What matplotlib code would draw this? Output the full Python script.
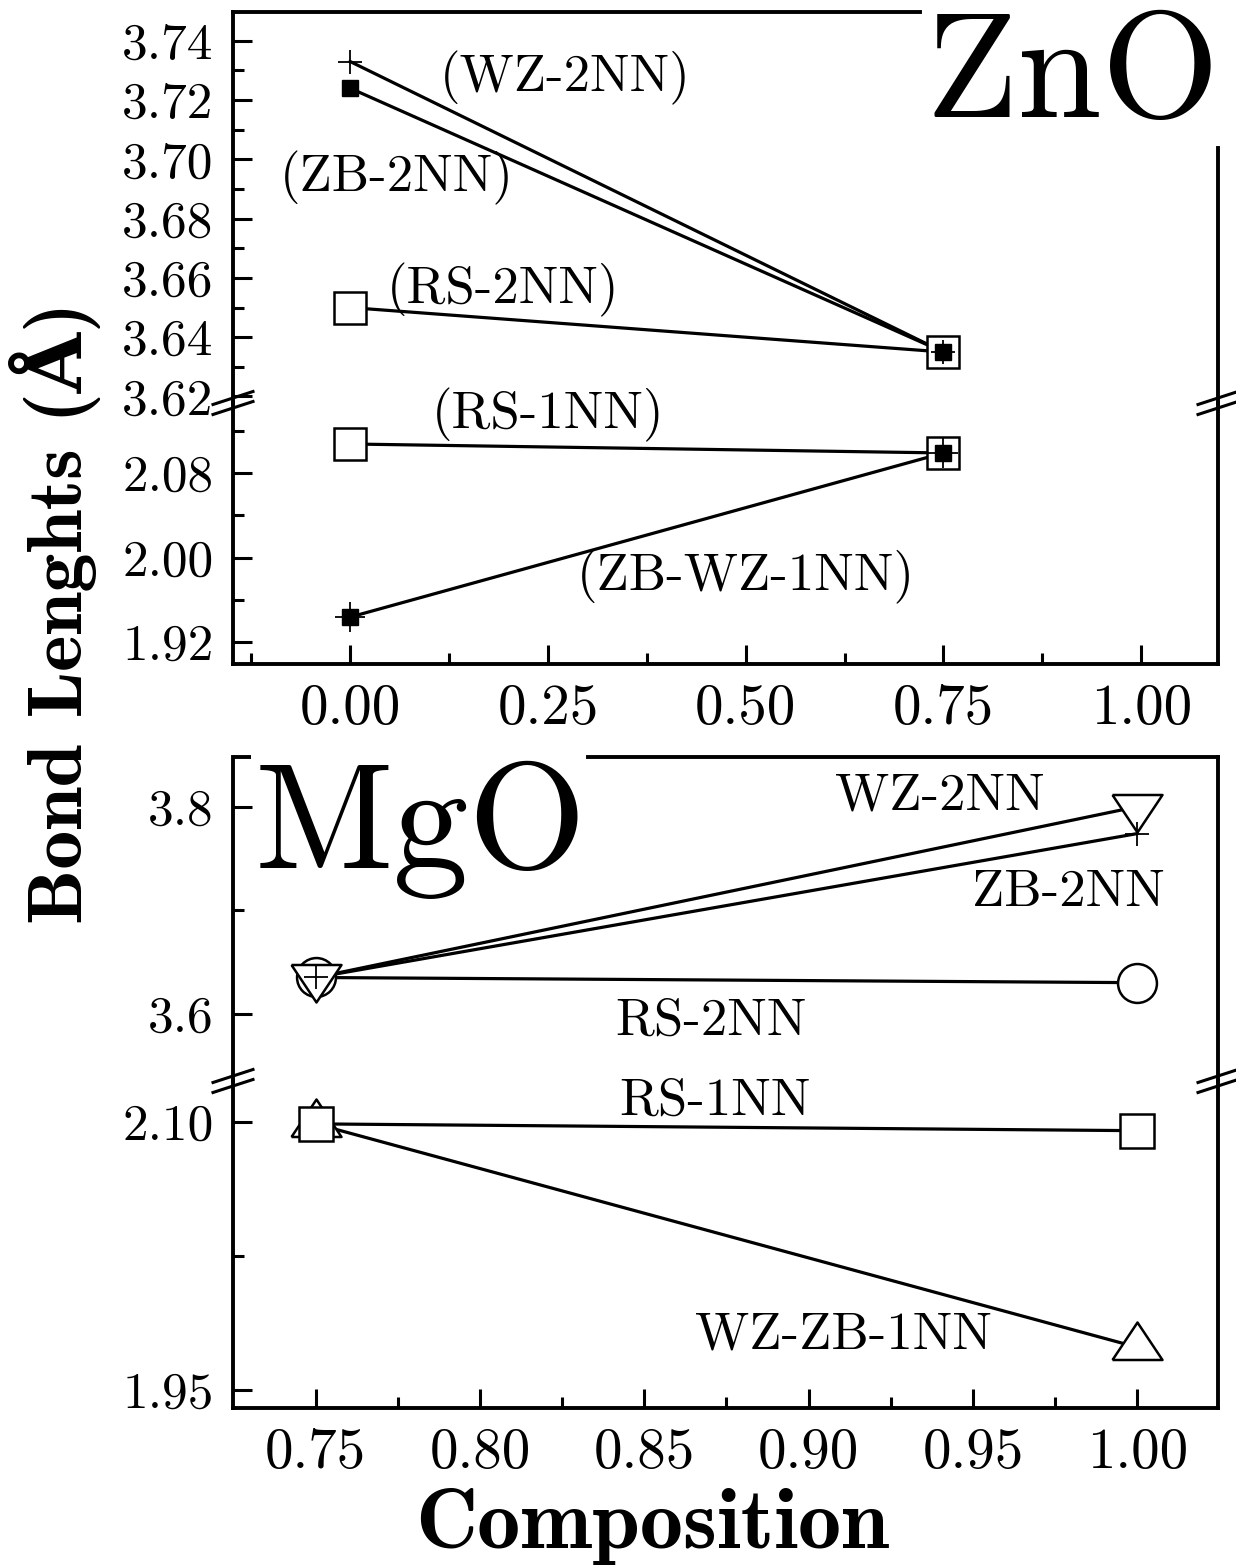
import matplotlib
matplotlib.use("Agg")
import matplotlib.pyplot as plt
from matplotlib.lines import Line2D
from matplotlib.ticker import FixedLocator, FormatStrFormatter

plt.rcParams['font.family'] = ['cmr10', 'DejaVu Serif']
plt.rcParams['axes.unicode_minus'] = False
plt.rcParams['axes.formatter.use_mathtext'] = True

# ZnO panel data (composition, bond length in Angstrom)
zno_x = [0.0, 0.75]
zno_wz_2nn = [3.733, 3.635]
zno_zb_2nn = [3.724, 3.635]
zno_rs_2nn = [3.650, 3.635]
zno_rs_1nn = [2.1075, 2.099]
zno_zbwz_1nn = [1.9436, 2.099]

# MgO panel data
mgo_x = [0.75, 1.00]
mgo_wz_2nn = [3.635, 3.800]
mgo_zb_2nn = [3.635, 3.774]
mgo_rs_2nn = [3.635, 3.630]
mgo_rs_1nn = [2.099, 2.0952]
mgo_wzzb_1nn = [2.099, 1.974]

W, H = 1236, 1568
fig = plt.figure(figsize=(W / 100, H / 100), dpi=100)


def fpos(x0, y0, x1, y1):
    # pixel box (from top-left) -> figure fraction
    return [x0 / W, 1 - y1 / H, (x1 - x0) / W, (y1 - y0) / H]


ax_zu = fig.add_axes(fpos(233, 12, 1218, 403))
ax_zl = fig.add_axes(fpos(233, 403, 1218, 664))
ax_mu = fig.add_axes(fpos(233, 757, 1218, 1081))
ax_ml = fig.add_axes(fpos(233, 1081, 1218, 1408))

tri_up = [(-1, -0.5), (1, -0.5), (0, 1.0), (-1, -0.5)]
tri_dn = [(-1, 0.5), (1, 0.5), (0, -1.0), (-1, 0.5)]

LW = 2.3
SPW = 2.8
for ax in (ax_zu, ax_zl, ax_mu, ax_ml):
    ax.set_facecolor('none')
    for s in ax.spines.values():
        s.set_linewidth(SPW)
    ax.tick_params(which='both', direction='in', right=False, top=False, width=2.2)
    ax.tick_params(which='major', length=14, pad=14)
    ax.tick_params(which='minor', length=8)
    ax.tick_params(axis='y', labelsize=37)
    ax.tick_params(axis='x', labelsize=41)

# ---------------- ZnO ----------------
zx_lim = (-0.148, 1.097)
for ax in (ax_zu, ax_zl):
    ax.set_xlim(*zx_lim)
ax_zu.set_ylim(3.6178, 3.7497)
ax_zl.set_ylim(1.8992, 2.1463)

ax_zu.spines['bottom'].set_visible(False)
ax_zu.tick_params(axis='x', which='both', bottom=False, labelbottom=False)
ax_zu.spines['top'].set_bounds(zx_lim[0], 0.72)
ax_zu.spines['right'].set_bounds(3.6178, 3.7038)
ax_zl.spines['top'].set_visible(False)

ax_zu.yaxis.set_major_locator(FixedLocator([3.62, 3.64, 3.66, 3.68, 3.70, 3.72, 3.74]))
ax_zu.yaxis.set_minor_locator(FixedLocator([3.63, 3.65, 3.67, 3.69, 3.71, 3.73]))
ax_zu.yaxis.set_major_formatter(FormatStrFormatter('%.2f'))
ax_zl.yaxis.set_major_locator(FixedLocator([1.92, 2.00, 2.08]))
ax_zl.yaxis.set_minor_locator(FixedLocator([1.96, 2.04, 2.12]))
ax_zl.yaxis.set_major_formatter(FormatStrFormatter('%.2f'))
ax_zl.xaxis.set_major_locator(FixedLocator([0.0, 0.25, 0.5, 0.75, 1.0]))
ax_zl.xaxis.set_minor_locator(FixedLocator([-0.125, 0.125, 0.375, 0.625, 0.875]))
ax_zl.xaxis.set_major_formatter(FormatStrFormatter('%.2f'))

# lines
for y in (zno_wz_2nn, zno_zb_2nn, zno_rs_2nn):
    ax_zu.plot(zno_x, y, color='k', lw=LW, zorder=2)
for y in (zno_rs_1nn, zno_zbwz_1nn):
    ax_zl.plot(zno_x, y, color='k', lw=LW, zorder=2)

# markers
ax_zu.plot(zno_x, zno_rs_2nn, ls='none', marker='s', ms=23, mfc='white', mec='k', mew=1.8, zorder=3)
ax_zu.plot(zno_x, zno_zb_2nn, ls='none', marker='s', ms=12, mfc='k', mec='k', zorder=4)
ax_zu.plot(zno_x, zno_wz_2nn, ls='none', marker='+', ms=17, mec='k', mew=1.3, zorder=5)
ax_zl.plot(zno_x, zno_rs_1nn, ls='none', marker='s', ms=23, mfc='white', mec='k', mew=1.8, zorder=3)
ax_zl.plot(zno_x, zno_zbwz_1nn, ls='none', marker='s', ms=12, mfc='k', mec='k', zorder=4)
ax_zl.plot(zno_x, zno_zbwz_1nn, ls='none', marker='+', ms=22, mec='k', mew=1.3, zorder=5)

lab = dict(fontsize=38, ha='left', va='center')
ax_zu.text(0.114, 3.7274, '(WZ-2NN)', **lab)
ax_zu.text(-0.0885, 3.6937, '(ZB-2NN)', **lab)
ax_zu.text(0.0468, 3.6559, '(RS-2NN)', **lab)
ax_zl.text(0.1037, 2.1349, '(RS-1NN)', **lab)
ax_zl.text(0.287, 1.9815, '(ZB-WZ-1NN)', **lab)
ax_zu.text(0.727, 3.7143, 'ZnO', fontsize=109, ha='left', va='baseline')

# ---------------- MgO ----------------
mx_lim = (0.7248, 1.0246)
for ax in (ax_mu, ax_ml):
    ax.set_xlim(*mx_lim)
ax_mu.set_ylim(3.535, 3.848)
ax_ml.set_ylim(1.940, 2.123)

ax_mu.spines['bottom'].set_visible(False)
ax_mu.tick_params(axis='x', which='both', bottom=False, labelbottom=False)
ax_mu.spines['top'].set_bounds(0.833, mx_lim[1])
ax_mu.plot([0, 0.018], [1, 1], transform=ax_mu.transAxes, color='k', lw=SPW,
           clip_on=False, solid_capstyle='butt')
ax_ml.spines['top'].set_visible(False)

ax_mu.yaxis.set_major_locator(FixedLocator([3.6, 3.8]))
ax_mu.yaxis.set_minor_locator(FixedLocator([3.7]))
ax_mu.yaxis.set_major_formatter(FormatStrFormatter('%.1f'))
ax_ml.yaxis.set_major_locator(FixedLocator([1.95, 2.10]))
ax_ml.yaxis.set_minor_locator(FixedLocator([2.025]))
ax_ml.yaxis.set_major_formatter(FormatStrFormatter('%.2f'))
ax_ml.xaxis.set_major_locator(FixedLocator([0.75, 0.80, 0.85, 0.90, 0.95, 1.00]))
ax_ml.xaxis.set_minor_locator(FixedLocator([0.775, 0.825, 0.875, 0.925, 0.975]))
ax_ml.xaxis.set_major_formatter(FormatStrFormatter('%.2f'))

for y in (mgo_wz_2nn, mgo_zb_2nn, mgo_rs_2nn):
    ax_mu.plot(mgo_x, y, color='k', lw=LW, zorder=2)
for y in (mgo_rs_1nn, mgo_wzzb_1nn):
    ax_ml.plot(mgo_x, y, color='k', lw=LW, zorder=2)

ax_mu.plot(mgo_x, mgo_rs_2nn, ls='none', marker='o', ms=28, mfc='white', mec='k', mew=1.8, zorder=3)
ax_mu.plot(mgo_x, mgo_wz_2nn, ls='none', marker=tri_dn, ms=36, mfc='white', mec='k', mew=1.8, zorder=4)
ax_mu.plot(mgo_x, mgo_zb_2nn, ls='none', marker='+', ms=17, mec='k', mew=1.3, zorder=5)
ax_ml.plot(mgo_x, mgo_wzzb_1nn, ls='none', marker=tri_up, ms=36, mfc='white', mec='k', mew=1.8, zorder=3)
ax_ml.plot(mgo_x, mgo_rs_1nn, ls='none', marker='s', ms=24, mfc='white', mec='k', mew=1.8, zorder=4)

ax_mu.text(0.9079, 3.8106, 'WZ-2NN', **lab)
ax_mu.text(0.9498, 3.7169, 'ZB-2NN', **lab)
ax_mu.text(0.8412, 3.5923, 'RS-2NN', **lab)
ax_ml.text(0.8425, 2.1118, 'RS-1NN', **lab)
ax_ml.text(0.8653, 1.9808, 'WZ-ZB-1NN', **lab)
ax_mu.text(0.7314, 3.741, 'MgO', fontsize=109, ha='left', va='baseline')


# axis break marks "//" on both vertical spines
def break_marks(ypx):
    for xs in (233, 1218):
        for off in (-5, 5):
            yc = ypx + off
            fig.add_artist(Line2D([(xs - 20) / W, (xs + 20) / W],
                                  [1 - (yc + 6.5) / H, 1 - (yc - 6.5) / H],
                                  transform=fig.transFigure, color='k', lw=2.2))


break_marks(403)
break_marks(1081)

bold = dict(family=['cmb10', 'DejaVu Serif'], weight='bold')
fig.text(55 / W, 1 - 613 / H, 'Bond Lenghts (Å)', rotation=90, ha='center', va='center',
         fontsize=56, **bold)
fig.text(652 / W, 1 - 1548 / H, 'Composition', ha='center', va='baseline', fontsize=62, **bold)

fig.savefig('out.png', dpi=100)
